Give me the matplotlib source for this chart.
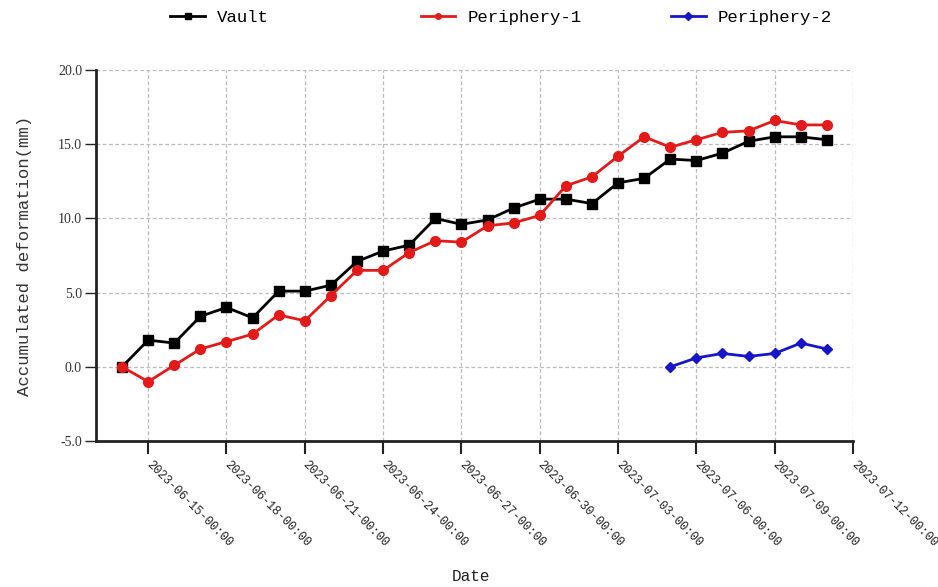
import numpy as np
import pandas as pd
import matplotlib
matplotlib.use("Agg")
import matplotlib.pyplot as plt
import matplotlib.dates as mdates
from matplotlib.lines import Line2D

plt.rcParams['font.family'] = ['Liberation Mono', 'DejaVu Sans Mono']

# daily monitoring data
dates = pd.date_range('2023-06-14', '2023-07-11', freq='D')
vault = [0.0, 1.8, 1.6, 3.4, 4.0, 3.3, 5.1, 5.1, 5.5, 7.1, 7.8,
         8.2, 10.0, 9.6, 9.9, 10.7, 11.3, 11.3, 11.0, 12.4,
         12.7, 14.0, 13.9, 14.4, 15.2, 15.5, 15.5, 15.3]
periphery_1 = [0.0, -1.0, 0.1, 1.2, 1.7, 2.2, 3.5, 3.1, 4.8, 6.5, 6.5,
               7.7, 8.5, 8.4, 9.5, 9.7, 10.2, 12.2, 12.8, 14.2,
               15.5, 14.8, 15.3, 15.8, 15.9, 16.6, 16.3, 16.3]
dates_p2 = pd.date_range('2023-07-05', '2023-07-11', freq='D')
periphery_2 = [0.0, 0.6, 0.9, 0.7, 0.9, 1.6, 1.2]

y_ticks = [-5.0, 0.0, 5.0, 10.0, 15.0, 20.0]

fig = plt.figure(figsize=(9.38, 5.87), dpi=100)
ax = fig.add_axes([0.1023, 0.2487, 0.8071, 0.632])

l1, = ax.plot(dates, vault, color='black', lw=2, marker='s', ms=7, label='Vault')
l2, = ax.plot(dates, periphery_1, color='#e31a1a', lw=2, marker='o', ms=7, label='Periphery-1')
l3, = ax.plot(dates_p2, periphery_2, color='#1616c8', lw=2, marker='D', ms=5, label='Periphery-2')

ax.set_xlim(pd.Timestamp('2023-06-13'), pd.Timestamp('2023-07-12'))
ax.set_ylim(-5, 20)
ax.set_yticks(y_ticks)
ax.yaxis.set_major_formatter(matplotlib.ticker.FormatStrFormatter('%.1f'))
for lab in ax.get_yticklabels():
    lab.set_family('Liberation Serif')
    lab.set_fontsize(10)
    lab.set_color('#333333')

ticks = pd.date_range('2023-06-15', '2023-07-12', freq='3D')
ax.set_xticks(ticks)
ax.xaxis.set_major_formatter(mdates.DateFormatter('%Y-%m-%d-%H:%M'))
for lab in ax.get_xticklabels():
    lab.set_rotation(-45)
    lab.set_ha('left')
    lab.set_va('center')
    lab.set_rotation_mode('anchor')
    lab.set_fontsize(8.7)
    lab.set_color('#222222')

ax.tick_params(axis='x', direction='out', length=9, width=1.5, color='#222222', pad=7)
ax.tick_params(axis='y', direction='out', length=8, width=1, color='#222222', pad=2)

ax.grid(True, linestyle=(0, (3, 2)), color='#bbbbbb', lw=0.9)
ax.set_axisbelow(True)
for side in ['top', 'right']:
    ax.spines[side].set_visible(False)
for side in ['left', 'bottom']:
    ax.spines[side].set_linewidth(2)
    ax.spines[side].set_color('#222222')

ax.set_ylabel('Accumulated deformation(mm)', fontsize=12.5, color='#333333', labelpad=19)
ax.set_xlabel('Date', fontsize=11.5, color='#222222')
ax.xaxis.set_label_coords(0.495, -0.345)

# legend entries laid out across the top
for handle, xpos in [(l1, 0.174), (l2, 0.441), (l3, 0.708)]:
    h = Line2D([], [], color=handle.get_color(), lw=2, marker=handle.get_marker(), ms=4)
    fig.legend([h], [handle.get_label()], loc='center left', bbox_to_anchor=(xpos, 0.97),
               frameon=False, fontsize=12.5, handlelength=2.0, handletextpad=0.7,
               borderaxespad=0)

fig.savefig('out.png', dpi=100, facecolor='white')
